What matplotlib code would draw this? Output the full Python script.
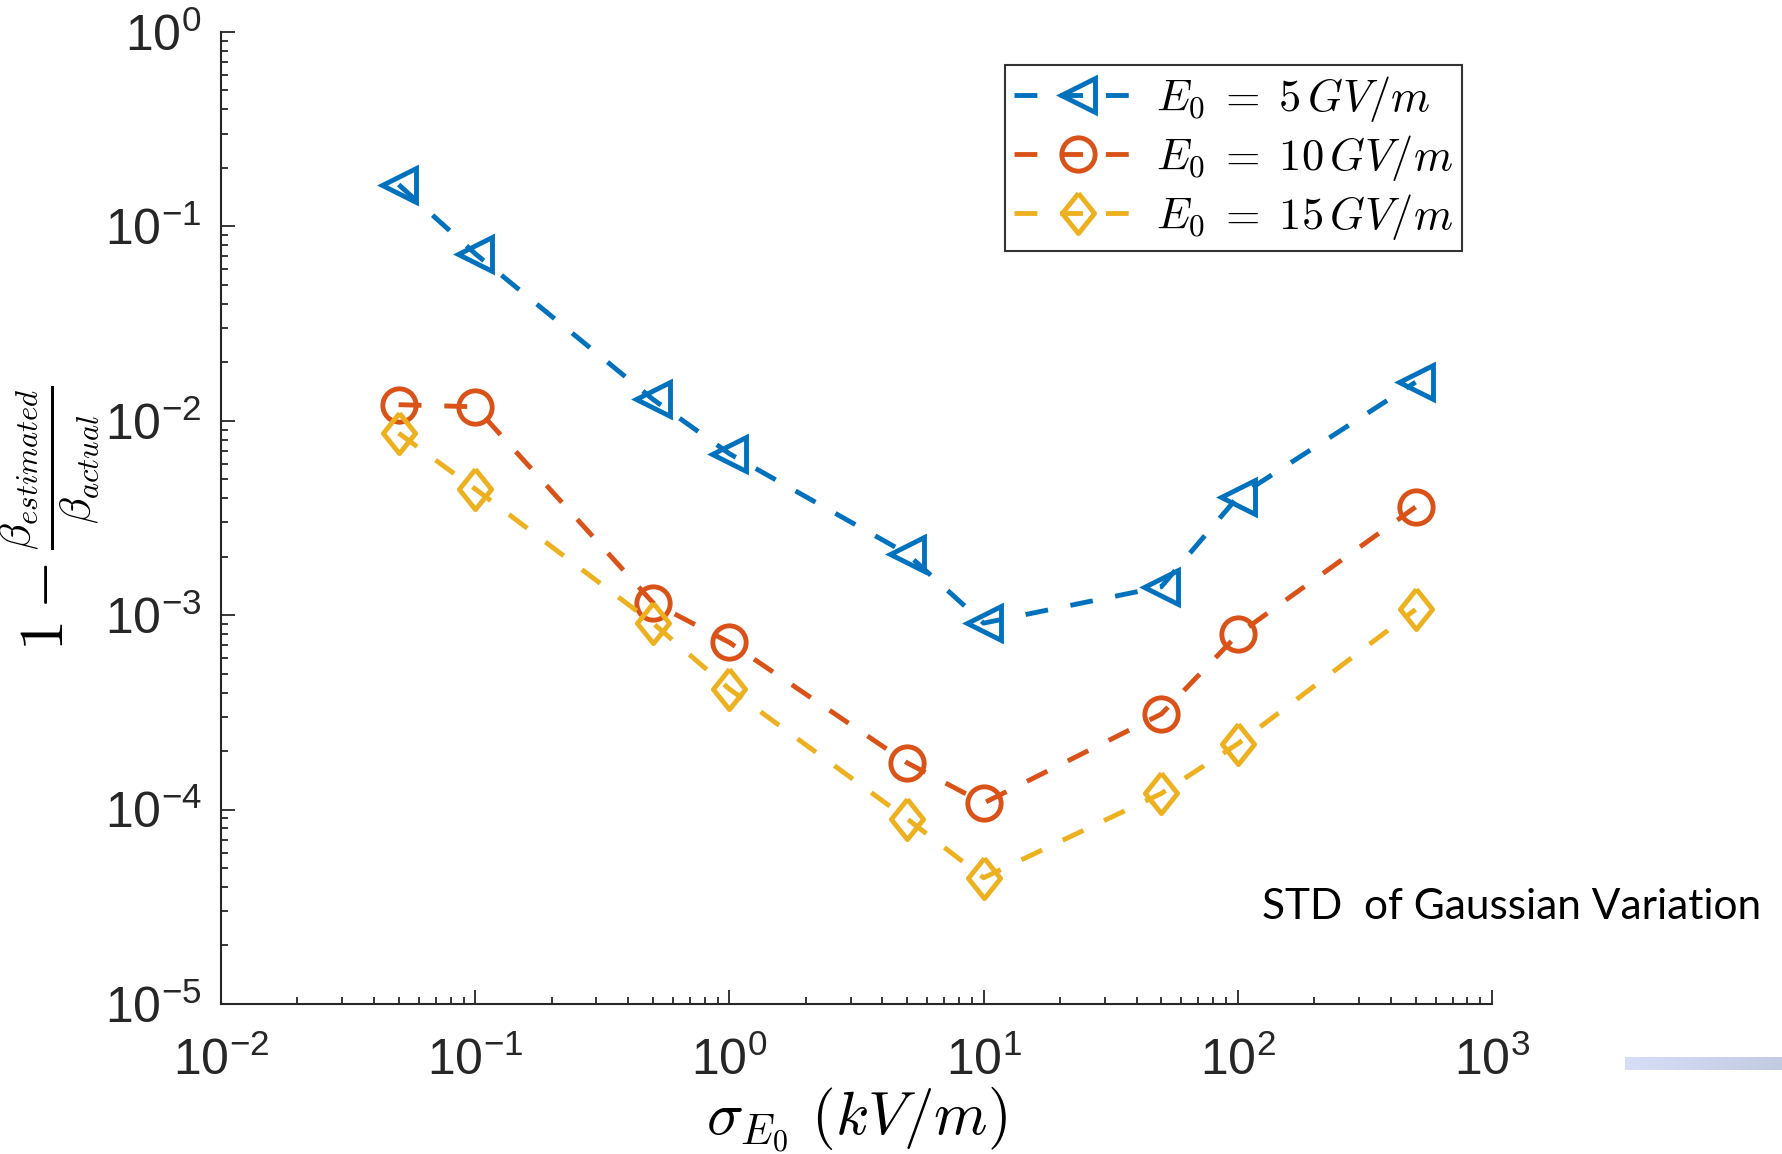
import numpy as np
import matplotlib
matplotlib.use("Agg")
import matplotlib.pyplot as plt

# datos
sigma = [0.05, 0.1, 0.5, 1, 5, 10, 50, 100, 500]
err_5 = [0.164, 0.0724, 0.0129, 0.00677, 0.00207, 0.00091, 0.0014, 0.00406, 0.0158]
err_10 = [0.0121, 0.0118, 0.00116, 0.000724, 0.000174, 0.000108, 0.00031, 0.000796, 0.0036]
err_15 = [0.00863, 0.00446, 0.00091, 0.000417, 0.0000897, 0.0000446, 0.000121, 0.000218, 0.00107]
labels = [r"$E_0\;=\;5\,GV/m$", r"$E_0\;=\;10\,GV/m$", r"$E_0\;=\;15\,GV/m$"]

plt.rcParams["font.family"] = ["Liberation Sans", "DejaVu Sans"]
plt.rcParams["mathtext.fontset"] = "custom"
plt.rcParams["mathtext.rm"] = "Liberation Sans"
plt.rcParams["mathtext.it"] = "Liberation Sans:italic"
plt.rcParams["mathtext.bf"] = "Liberation Sans:bold"
plt.rcParams["axes.unicode_minus"] = False

colors = ["#0072BD", "#D95319", "#EDB120"]
diamond = [(0, 1), (0.8, 0), (0, -1), (-0.8, 0), (0, 1)]
markers = ["<", "o", diamond]
msizes = [24, 24, 29]
lw = 3.5

fig = plt.figure(figsize=(17.82, 11.54), dpi=100)
ax = fig.add_axes([0.124, 0.130, 0.7133, 0.8423])

for y, lab, c, m, ms in zip([err_5, err_10, err_15], labels, colors, markers, msizes):
    ax.plot(sigma, y, linestyle=(0, (4.7, 4.7)), color=c, lw=lw, marker=m,
            markersize=ms, markerfacecolor="none", markeredgecolor=c,
            markeredgewidth=lw, label=lab)

ax.set_xscale("log")
ax.set_yscale("log")
ax.set_xlim(1e-2, 1e3)
ax.set_ylim(1e-5, 1e0)

axc = "#262626"
for s in ["top", "right"]:
    ax.spines[s].set_visible(False)
for s in ["left", "bottom"]:
    ax.spines[s].set_color(axc)
    ax.spines[s].set_linewidth(1.5)
ax.tick_params(which="both", direction="in", colors=axc, width=1.3)
ax.tick_params(which="major", length=10, labelsize=36)
ax.tick_params(which="minor", length=5)
ax.tick_params(axis="x", which="major", pad=24)
ax.tick_params(axis="y", which="major", pad=14)

ax.set_xlabel(r"$\sigma_{E_0}\ (kV/m)$", fontsize=44, math_fontfamily="cm", labelpad=0)
ax.set_ylabel(r"$1 - \frac{\beta_{estimated}}{\beta_{actual}}$", fontsize=45,
              math_fontfamily="cm")
ax.yaxis.set_label_coords(-0.095, 0.5)

leg = ax.legend(loc="upper right", bbox_to_anchor=(0.8204, 0.9437),
                bbox_transform=fig.transFigure,
                prop={"size": 32, "math_fontfamily": "cm"},
                handlelength=2.9, handletextpad=0.3, labelspacing=0.2,
                borderpad=0.2, borderaxespad=0, fancybox=False, numpoints=1)
leg.get_frame().set_edgecolor("black")
leg.get_frame().set_linewidth(1.5)

fig.text(0.7082, 0.214, "STD  of Gaussian Variation", fontsize=30.5,
         family=["Lato", "DejaVu Sans"], va="center", ha="left", color="black")

# barra azul en la esquina inferior derecha
bar = fig.add_axes([1625 / 1782, 1 - 1070 / 1154, 157 / 1782, 13 / 1154])
grad = np.linspace(0, 1, 256).reshape(1, -1)
bar.imshow(grad, aspect="auto", cmap=matplotlib.colors.LinearSegmentedColormap.from_list(
    "b", ["#d6def8", "#c3cbe3"]))
bar.set_axis_off()

fig.savefig("out.png", dpi=100)
